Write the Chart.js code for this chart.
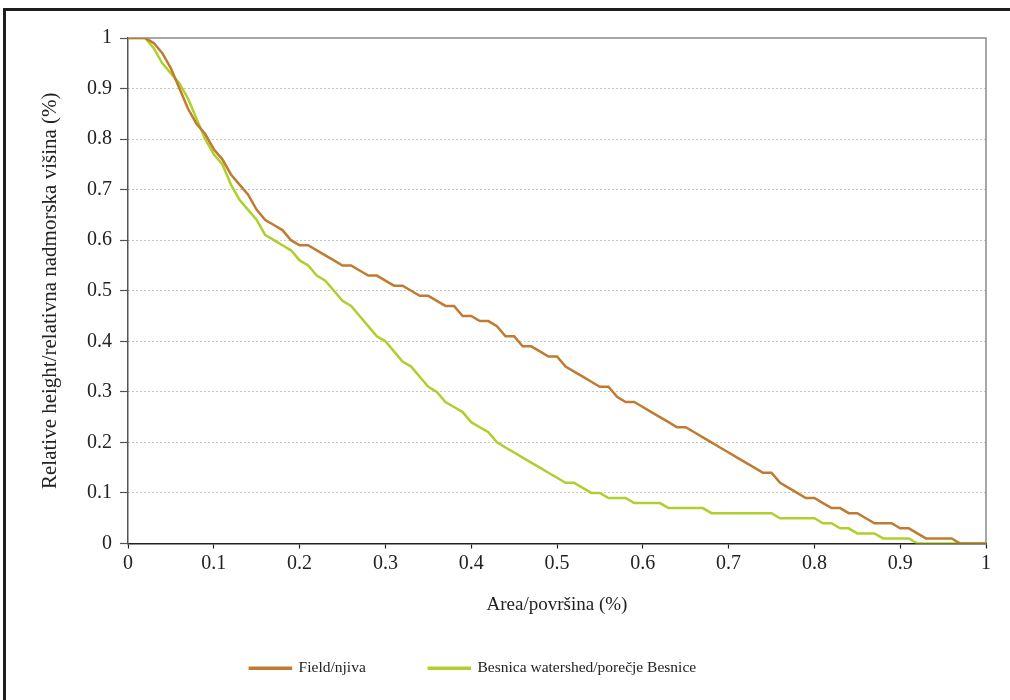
<!DOCTYPE html>
<html>
<head>
<meta charset="utf-8">
<script src="https://cdn.jsdelivr.net/npm/chart.js@4.4.1/dist/chart.umd.min.js"></script>
<style>
  html, body { margin: 0; padding: 0; background: #fff; }
  #wrap { position: relative; width: 1010px; height: 700px; }
</style>
</head>
<body>
<div id="wrap"><canvas id="chart"></canvas></div>
<script>
// Hypsometric curves: relative height vs relative area

const areaValues = [
  0, 0.01, 0.02, 0.03, 0.04, 0.05, 0.06, 0.07, 0.08, 0.09,
  0.1, 0.11, 0.12, 0.13, 0.14, 0.15, 0.16, 0.17, 0.18, 0.19,
  0.2, 0.21, 0.22, 0.23, 0.24, 0.25, 0.26, 0.27, 0.28, 0.29,
  0.3, 0.31, 0.32, 0.33, 0.34, 0.35, 0.36, 0.37, 0.38, 0.39,
  0.4, 0.41, 0.42, 0.43, 0.44, 0.45, 0.46, 0.47, 0.48, 0.49,
  0.5, 0.51, 0.52, 0.53, 0.54, 0.55, 0.56, 0.57, 0.58, 0.59,
  0.6, 0.61, 0.62, 0.63, 0.64, 0.65, 0.66, 0.67, 0.68, 0.69,
  0.7, 0.71, 0.72, 0.73, 0.74, 0.75, 0.76, 0.77, 0.78, 0.79,
  0.8, 0.81, 0.82, 0.83, 0.84, 0.85, 0.86, 0.87, 0.88, 0.89,
  0.9, 0.91, 0.92, 0.93, 0.94, 0.95, 0.96, 0.97, 0.98, 0.99,
  1
];

const fieldHeights = [
  1, 1, 1, 0.99, 0.97, 0.94, 0.90, 0.86, 0.83, 0.81,
  0.78, 0.76, 0.73, 0.71, 0.69, 0.66, 0.64, 0.63, 0.62, 0.60,
  0.59, 0.59, 0.58, 0.57, 0.56, 0.55, 0.55, 0.54, 0.53, 0.53,
  0.52, 0.51, 0.51, 0.50, 0.49, 0.49, 0.48, 0.47, 0.47, 0.45,
  0.45, 0.44, 0.44, 0.43, 0.41, 0.41, 0.39, 0.39, 0.38, 0.37,
  0.37, 0.35, 0.34, 0.33, 0.32, 0.31, 0.31, 0.29, 0.28, 0.28,
  0.27, 0.26, 0.25, 0.24, 0.23, 0.23, 0.22, 0.21, 0.20, 0.19,
  0.18, 0.17, 0.16, 0.15, 0.14, 0.14, 0.12, 0.11, 0.10, 0.09,
  0.09, 0.08, 0.07, 0.07, 0.06, 0.06, 0.05, 0.04, 0.04, 0.04,
  0.03, 0.03, 0.02, 0.01, 0.01, 0.01, 0.01, 0, 0, 0,
  0
];

const watershedHeights = [
  1, 1, 1, 0.98, 0.95, 0.93, 0.91, 0.88, 0.84, 0.80,
  0.77, 0.75, 0.71, 0.68, 0.66, 0.64, 0.61, 0.60, 0.59, 0.58,
  0.56, 0.55, 0.53, 0.52, 0.50, 0.48, 0.47, 0.45, 0.43, 0.41,
  0.40, 0.38, 0.36, 0.35, 0.33, 0.31, 0.30, 0.28, 0.27, 0.26,
  0.24, 0.23, 0.22, 0.20, 0.19, 0.18, 0.17, 0.16, 0.15, 0.14,
  0.13, 0.12, 0.12, 0.11, 0.10, 0.10, 0.09, 0.09, 0.09, 0.08,
  0.08, 0.08, 0.08, 0.07, 0.07, 0.07, 0.07, 0.07, 0.06, 0.06,
  0.06, 0.06, 0.06, 0.06, 0.06, 0.06, 0.05, 0.05, 0.05, 0.05,
  0.05, 0.04, 0.04, 0.03, 0.03, 0.02, 0.02, 0.02, 0.01, 0.01,
  0.01, 0.01, 0, 0, 0, 0, 0, 0, 0, 0,
  0
];

const seriesLabels = ['Field/njiva', 'Besnica watershed/porečje Besnice'];
const seriesColors = ['#C07B30', '#AFCF2F'];
const xTitle = 'Area/površina (%)';
const yTitle = 'Relative height/relativna nadmorska višina (%)';

const FONT = '"Liberation Serif", "DejaVu Serif", serif';

function toPoints(xs, ys) {
  return xs.map((x, i) => ({ x: x, y: ys[i] }));
}

function tickText(value) {
  return String(Math.round(value * 10) / 10);
}

// outer page frame + top/right plot frame
const framePlugin = {
  id: 'framePlugin',
  beforeDraw(chart) {
    const ctx = chart.ctx;
    ctx.save();
    ctx.fillStyle = '#1e1e1e';
    ctx.fillRect(3, 8, chart.width, 3);
    ctx.fillRect(3, 8, 3, chart.height);
    ctx.restore();
  },
  beforeDatasetsDraw(chart) {
    const { ctx, chartArea: a } = chart;
    ctx.save();
    ctx.strokeStyle = '#8a8a8a';
    ctx.lineWidth = 1.5;
    ctx.beginPath();
    ctx.moveTo(a.left, a.top);
    ctx.lineTo(a.right, a.top);
    ctx.lineTo(a.right, a.bottom);
    ctx.stroke();
    ctx.restore();
  }
};

// nudge the legend off-centre like the original
const legendShift = {
  id: 'legendShift',
  afterLayout(chart) {
    if (chart.legend) chart.legend.right -= 40;
  }
};

const datasets = [fieldHeights, watershedHeights].map((vals, i) => ({
  label: seriesLabels[i],
  data: toPoints(areaValues, vals),
  borderColor: seriesColors[i],
  backgroundColor: seriesColors[i],
  borderWidth: 2.5,
  pointRadius: 0,
  tension: 0,
  fill: false
}));

new Chart(document.getElementById('chart'), {
  type: 'line',
  data: { datasets: datasets },
  plugins: [framePlugin, legendShift],
  options: {
    responsive: true,
    maintainAspectRatio: false,
    animation: false,
    layout: { padding: { left: 0, top: 38, right: 24, bottom: 14 } },
    plugins: {
      tooltip: { enabled: false },
      legend: {
        position: 'bottom',
        labels: {
          boxWidth: 41,
          boxHeight: 1,
          padding: 63,
          color: '#222',
          font: { family: FONT, size: 15.5 }
        }
      }
    },
    scales: {
      x: {
        type: 'linear',
        min: 0,
        max: 1,
        afterFit(scale) { scale.height = 54; },
        ticks: { stepSize: 0.1, color: '#222', padding: 3, maxRotation: 0, callback: tickText, font: { family: FONT, size: 20 } },
        grid: { drawOnChartArea: false, drawTicks: true, tickLength: 5, tickColor: '#222', tickWidth: 1.2 },
        border: { color: '#222', width: 1.5 },
        title: { display: true, text: xTitle, color: '#222', padding: { top: 0, bottom: -19 }, font: { family: FONT, size: 19 } }
      },
      y: {
        type: 'linear',
        min: 0,
        max: 1,
        afterFit(scale) { scale.width = 128; },
        ticks: { stepSize: 0.1, color: '#222', padding: 8, callback: tickText, font: { family: FONT, size: 20 } },
        grid: {
          color: (c) => (c.tick && (c.tick.value <= 0.0001 || c.tick.value >= 0.9999)) ? 'rgba(0,0,0,0)' : '#8c8c8c',
          lineWidth: 1,
          drawTicks: true,
          tickLength: 8,
          tickColor: '#555',
          tickWidth: 1.2
        },
        border: { color: '#555', width: 1.5, dash: [1, 3] },
        title: { display: true, text: yTitle, color: '#222', padding: { top: 38, bottom: 0 }, font: { family: FONT, size: 21 } }
      }
    }
  }
});
</script>
</body>
</html>
